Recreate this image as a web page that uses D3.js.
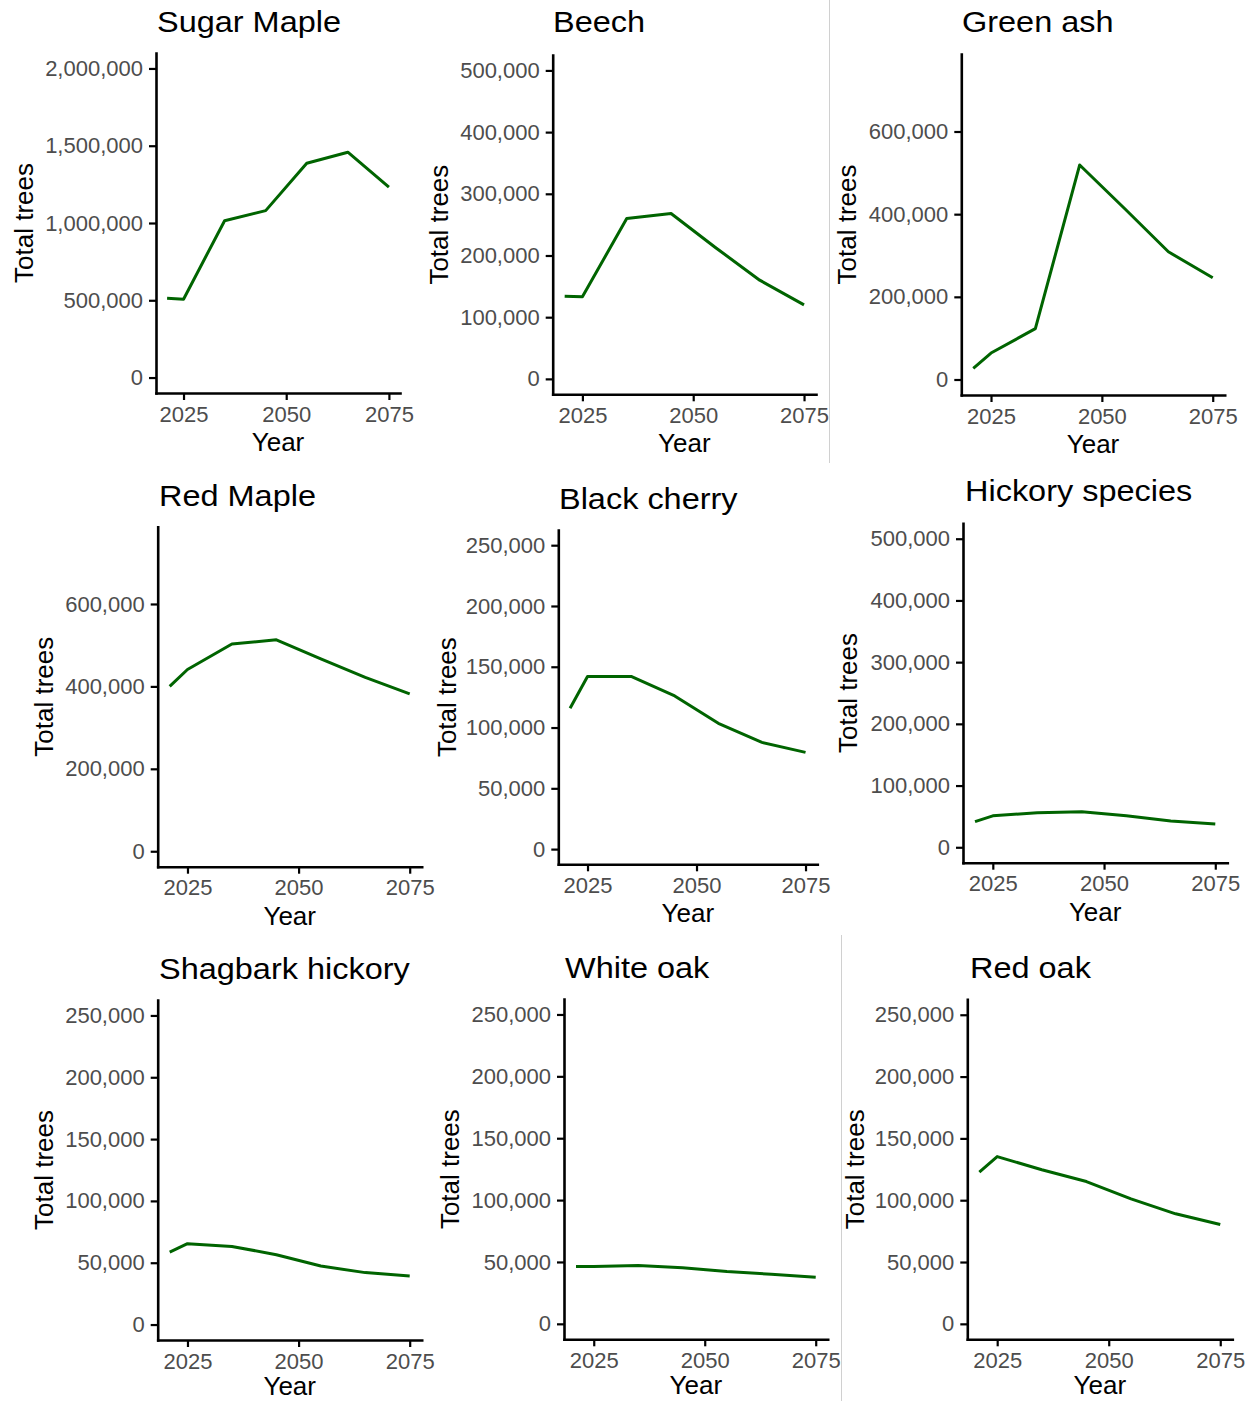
<!DOCTYPE html>
<html>
<head>
<meta charset="utf-8">
<script src="https://cdn.jsdelivr.net/npm/d3@7"></script>
<style>
  html, body { margin: 0; padding: 0; background: #ffffff; }
  svg { display: block; }
  text { font-family: "Liberation Sans", Arial, sans-serif; }
</style>
</head>
<body>
<svg id="chart" width="1255" height="1401"></svg>
<script>
// ---------------- DATA ----------------
const years = [2021, 2025, 2035, 2045, 2055, 2065, 2075];
const species = ["Sugar Maple", "Beech", "Green ash", "Red Maple", "Black cherry",
                 "Hickory species", "Shagbark hickory", "White oak", "Red oak"];
const sugarMaple     = [513000, 507000, 1015000, 1080000, 1387000, 1458000, 1232000];
const beech          = [134000, 133000, 260000, 268000, 213000, 160000, 120000];
const greenAsh       = [27000, 64000, 123000, 519000, 415000, 309000, 246000];
const redMaple       = [400000, 441000, 503000, 513000, 467000, 422000, 382000];
const blackCherry    = [115800, 142000, 142000, 126000, 103500, 87800, 79600];
const hickorySpecies = [41500, 51000, 56000, 57600, 51000, 42500, 37700];
const shagbarkHickory= [58600, 65400, 63200, 56500, 47300, 42000, 39300];
const whiteOak       = [46400, 46400, 47200, 45300, 42300, 40100, 37700];
const redOak         = [122700, 135300, 124600, 115100, 101100, 89000, 80300];
const seriesValues = [sugarMaple, beech, greenAsh, redMaple, blackCherry,
                      hickorySpecies, shagbarkHickory, whiteOak, redOak];
// y-axis upper limits (before ggplot-style 5% expansion)
const yLimits = [2000000, 500000, 750000, 750000, 250000, 500000, 250000, 250000, 250000];
const yTicks = [
  [0, 500000, 1000000, 1500000, 2000000],
  [0, 100000, 200000, 300000, 400000, 500000],
  [0, 200000, 400000, 600000],
  [0, 200000, 400000, 600000],
  [0, 50000, 100000, 150000, 200000, 250000],
  [0, 100000, 200000, 300000, 400000, 500000],
  [0, 50000, 100000, 150000, 200000, 250000],
  [0, 50000, 100000, 150000, 200000, 250000],
  [0, 50000, 100000, 150000, 200000, 250000]
];
const xTicks = [2025, 2050, 2075];
const xLabel = "Year";
const yLabel = "Total trees";

// ---------------- LAYOUT ----------------
// each panel: plot frame + title / axis-title anchor positions
const frames = [
  {left: 156,   right: 400,    top: 53,    bottom: 393,    tx: 157, ty: 32,  yt: 33,  xt: 58},
  {left: 552.7, right: 816,    top: 55,    bottom: 394.3,  tx: 553, ty: 32,  yt: 448, xt: 58},
  {left: 961.3, right: 1224.7, top: 54,    bottom: 395,    tx: 962, ty: 32,  yt: 856, xt: 58},
  {left: 157.7, right: 421.7,  top: 526.7, bottom: 866.7,  tx: 159, ty: 506, yt: 53,  xt: 58},
  {left: 558.3, right: 817.3,  top: 530,   bottom: 864.3,  tx: 559, ty: 509, yt: 456, xt: 58},
  {left: 963,   right: 1227.3, top: 523.3, bottom: 862.7,  tx: 965, ty: 501, yt: 857, xt: 58},
  {left: 157.7, right: 421.7,  top: 1000,  bottom: 1340,   tx: 159, ty: 979, yt: 53,  xt: 55},
  {left: 564,   right: 827.7,  top: 999,   bottom: 1339.3, tx: 565, ty: 978, yt: 459, xt: 55},
  {left: 967.3, right: 1232.3, top: 999.3, bottom: 1339.3, tx: 970, ty: 978, yt: 864, xt: 55}
];

const svg = d3.select("#chart");
const fmt = d3.format(",");
const lineColor = "#006400";

// light separators between panel images
svg.append("line").attr("x1", 829.5).attr("x2", 829.5).attr("y1", 0).attr("y2", 463)
  .attr("stroke", "#d0d0d0").attr("stroke-width", 1);
svg.append("line").attr("x1", 841.5).attr("x2", 841.5).attr("y1", 935).attr("y2", 1401)
  .attr("stroke", "#d0d0d0").attr("stroke-width", 1);

const xMin = d3.min(years), xMax = d3.max(years);
const xPad = (xMax - xMin) * 0.05;

species.forEach((name, i) => {
  const f = frames[i];
  const g = svg.append("g");
  const yMaxv = yLimits[i];
  const x = d3.scaleLinear().domain([xMin - xPad, xMax + xPad]).range([f.left, f.right]);
  const y = d3.scaleLinear().domain([-0.05 * yMaxv, 1.05 * yMaxv]).range([f.bottom, f.top]);

  // line
  const data = years.map((yr, k) => ({yr, v: seriesValues[i][k]}));
  g.append("path").datum(data)
    .attr("fill", "none").attr("stroke", lineColor).attr("stroke-width", 3)
    .attr("stroke-linejoin", "round")
    .attr("d", d3.line().x(d => x(d.yr)).y(d => y(d.v)));

  // y axis
  const ya = g.append("g").attr("transform", `translate(${f.left},0)`)
    .call(d3.axisLeft(y).tickValues(yTicks[i]).tickFormat(fmt).tickSize(7).tickSizeOuter(0).tickPadding(6));
  // x axis
  const xa = g.append("g").attr("transform", `translate(0,${f.bottom})`)
    .call(d3.axisBottom(x).tickValues(xTicks).tickFormat(d3.format("d")).tickSize(7).tickSizeOuter(0).tickPadding(6));
  [ya, xa].forEach(a => {
    a.select(".domain").attr("stroke", "#000").attr("stroke-width", 2.6).attr("stroke-linecap", "square");
    a.selectAll(".tick line").attr("stroke", "#000").attr("stroke-width", 2.2);
    a.selectAll(".tick text").attr("fill", "#4d4d4d")
      .style("font-family", '"Liberation Sans", Arial, sans-serif').style("font-size", "22px");
  });

  // title
  g.append("text").attr("transform", `translate(${f.tx},${f.ty}) scale(1.12,1)`)
    .attr("font-size", 29).attr("fill", "#000").text(name);
  // x label
  g.append("text").attr("x", (f.left + f.right) / 2).attr("y", f.bottom + f.xt)
    .attr("text-anchor", "middle").attr("font-size", 26).attr("fill", "#000").text(xLabel);
  // y label
  g.append("text").attr("transform", `translate(${f.yt},${(f.top + f.bottom) / 2}) rotate(-90)`)
    .attr("text-anchor", "middle").attr("font-size", 26).attr("fill", "#000").text(yLabel);
});
</script>
</body>
</html>
